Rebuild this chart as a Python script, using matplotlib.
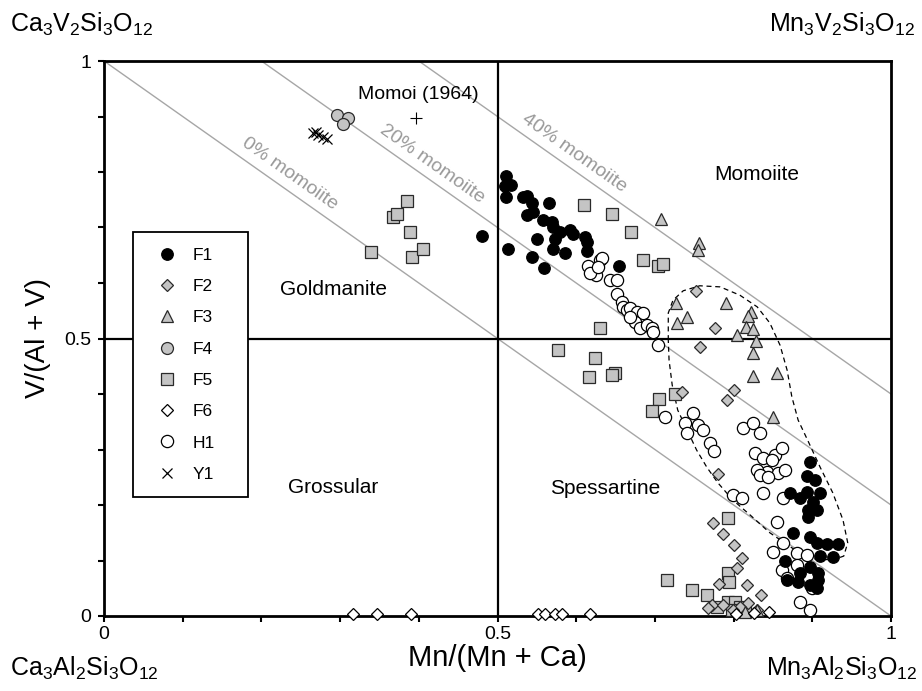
import math
import matplotlib
matplotlib.use('Agg')
import matplotlib.pyplot as plt
from matplotlib.ticker import MultipleLocator, FixedLocator, FixedFormatter

plt.rcParams['font.family'] = ['Liberation Sans', 'DejaVu Sans']
plt.rcParams['mathtext.default'] = 'regular'

# ---- data: Mn/(Mn+Ca) vs V/(Al+V) ----
F1_x = [0.480, 0.511, 0.517, 0.510, 0.511, 0.532, 0.537, 0.544, 0.537, 0.545,
        0.565, 0.558, 0.569, 0.571, 0.579, 0.592, 0.596, 0.611, 0.614, 0.573,
        0.550, 0.571, 0.586, 0.614, 0.513, 0.544, 0.559, 0.654,
        0.897, 0.893, 0.903, 0.910, 0.893, 0.884, 0.872, 0.901, 0.895, 0.906,
        0.895, 0.875, 0.897, 0.906, 0.919, 0.933, 0.910, 0.926, 0.865, 0.897,
        0.907, 0.884, 0.882, 0.897, 0.868, 0.906, 0.907]
F1_y = [0.685, 0.793, 0.777, 0.775, 0.755, 0.755, 0.757, 0.744, 0.723, 0.728,
        0.744, 0.714, 0.710, 0.701, 0.692, 0.695, 0.688, 0.683, 0.674, 0.679,
        0.679, 0.661, 0.654, 0.658, 0.661, 0.647, 0.627, 0.631,
        0.277, 0.252, 0.245, 0.222, 0.223, 0.213, 0.222, 0.205, 0.191, 0.191,
        0.178, 0.150, 0.142, 0.132, 0.130, 0.130, 0.108, 0.106, 0.099, 0.088,
        0.077, 0.077, 0.061, 0.056, 0.065, 0.050, 0.065]

F2_x = [0.752, 0.776, 0.757, 0.734, 0.801, 0.792, 0.780, 0.774, 0.787, 0.801,
        0.811, 0.804, 0.781, 0.817, 0.835, 0.773, 0.787, 0.818, 0.767, 0.808,
        0.830, 0.799]
F2_y = [0.586, 0.519, 0.485, 0.404, 0.407, 0.389, 0.256, 0.168, 0.148, 0.128,
        0.105, 0.086, 0.058, 0.056, 0.038, 0.020, 0.020, 0.023, 0.014, 0.016,
        0.011, 0.011]

F3_x = [0.708, 0.756, 0.755, 0.727, 0.741, 0.728, 0.790, 0.822, 0.818, 0.816,
        0.825, 0.804, 0.828, 0.825, 0.825, 0.855, 0.850, 0.830, 0.814]
F3_y = [0.715, 0.672, 0.659, 0.564, 0.539, 0.528, 0.564, 0.548, 0.541, 0.521,
        0.517, 0.506, 0.495, 0.474, 0.432, 0.438, 0.359, 0.011, 0.007]

F4_x = [0.296, 0.310, 0.304]
F4_y = [0.903, 0.897, 0.887]

F5_x = [0.339, 0.367, 0.372, 0.385, 0.389, 0.391, 0.405,
        0.610, 0.645, 0.670, 0.685, 0.704, 0.710, 0.630, 0.577, 0.624, 0.616,
        0.649, 0.645, 0.705, 0.696, 0.726, 0.715, 0.747, 0.766, 0.793, 0.793,
        0.794, 0.793, 0.802, 0.779, 0.808, 0.798, 0.814]
F5_y = [0.656, 0.719, 0.724, 0.748, 0.692, 0.647, 0.661,
        0.741, 0.724, 0.692, 0.641, 0.631, 0.634, 0.519, 0.479, 0.465, 0.431,
        0.438, 0.434, 0.391, 0.369, 0.400, 0.065, 0.047, 0.038, 0.177, 0.077,
        0.061, 0.025, 0.025, 0.016, 0.016, 0.011, 0.011]

F6_x = [0.316, 0.347, 0.390, 0.552, 0.560, 0.573, 0.582, 0.618, 0.803, 0.826, 0.845]
F6_y = [0.004, 0.004, 0.004, 0.004, 0.004, 0.004, 0.004, 0.004, 0.004, 0.006, 0.007]

H1_x = [0.615, 0.630, 0.633, 0.625, 0.618, 0.628, 0.643, 0.652, 0.652, 0.658,
        0.659, 0.665, 0.668, 0.677, 0.685, 0.675, 0.681, 0.690, 0.696, 0.698,
        0.704, 0.668,
        0.713, 0.748, 0.738, 0.741, 0.755, 0.761, 0.770, 0.775, 0.812, 0.825,
        0.834, 0.827, 0.837, 0.853, 0.861, 0.842, 0.830, 0.856, 0.865, 0.849,
        0.837, 0.863, 0.799, 0.811, 0.855, 0.863, 0.850, 0.881, 0.893, 0.861,
        0.868, 0.881, 0.900, 0.884, 0.897, 0.834, 0.844]
H1_y = [0.631, 0.641, 0.645, 0.614, 0.618, 0.629, 0.605, 0.605, 0.580, 0.566,
        0.557, 0.551, 0.555, 0.548, 0.546, 0.530, 0.519, 0.524, 0.519, 0.512,
        0.488, 0.539,
        0.359, 0.366, 0.348, 0.330, 0.344, 0.335, 0.312, 0.297, 0.339, 0.348,
        0.330, 0.294, 0.285, 0.290, 0.303, 0.259, 0.263, 0.258, 0.263, 0.281,
        0.222, 0.213, 0.218, 0.213, 0.169, 0.132, 0.115, 0.114, 0.110, 0.083,
        0.068, 0.092, 0.050, 0.025, 0.011, 0.254, 0.250]

Y1_x = [0.266, 0.272, 0.278, 0.283, 0.270]
Y1_y = [0.870, 0.867, 0.863, 0.859, 0.872]

MOMOI_x = [0.397]
MOMOI_y = [0.897]

# dashed envelope drawn around the F3 / lower F1 field
ENV_x = [0.717, 0.717, 0.723, 0.736, 0.757, 0.783, 0.808, 0.830, 0.846, 0.859,
         0.868, 0.874, 0.882, 0.895, 0.910, 0.926, 0.939, 0.945, 0.940, 0.926,
         0.903, 0.878, 0.846, 0.821, 0.799, 0.780, 0.766, 0.753, 0.742, 0.729,
         0.722, 0.718, 0.717]
ENV_y = [0.497, 0.546, 0.569, 0.586, 0.595, 0.593, 0.578, 0.557, 0.528, 0.488,
         0.443, 0.395, 0.353, 0.314, 0.268, 0.222, 0.173, 0.132, 0.108, 0.101,
         0.103, 0.119, 0.150, 0.182, 0.209, 0.240, 0.268, 0.299, 0.332, 0.371,
         0.416, 0.461, 0.497]

MOMOIITE_LEVELS = [0.0, 0.2, 0.4]
MOMOIITE_LABELS = ['0% momoiite', '20% momoiite', '40% momoiite']
MOMOIITE_LABEL_X = [0.236, 0.417, 0.598]

FIELD_NAMES = ['Goldmanite', 'Momoiite', 'Grossular', 'Spessartine']

GREY = '#c4c4c4'
EDGE = '#2a2a2a'
LINE_GREY = '#a6a6a6'

fig = plt.figure(figsize=(9.22, 6.91), dpi=100)
ax = fig.add_axes([104 / 922, 75 / 691, 787 / 922, 555 / 691])
ax.set_xlim(0, 1)
ax.set_ylim(0, 1)

# angle of a slope -1 line on screen
ang = -math.degrees(math.atan2(555, 787))

for lev, lab, lx in zip(MOMOIITE_LEVELS, MOMOIITE_LABELS, MOMOIITE_LABEL_X):
    ax.plot([lev, 1], [1, lev], color=LINE_GREY, lw=1.0, zorder=1)
    ax.text(lx, 1 + lev - lx + 0.032, lab, color='#9a9a9a', fontsize=14,
            rotation=ang, rotation_mode='anchor', ha='center', va='center')

ax.axhline(0.5, color='black', lw=1.6, zorder=1.5)
ax.axvline(0.5, color='black', lw=1.6, zorder=1.5)

ax.plot(ENV_x, ENV_y, color='black', lw=0.9, ls=(0, (4, 3)), zorder=2)

series = [
    ('F1', F1_x, F1_y, dict(marker='o', ms=8.3, mfc='black', mec='black'), 6),
    ('F2', F2_x, F2_y, dict(marker='D', ms=6.3, mfc=GREY, mec=EDGE), 4),
    ('F3', F3_x, F3_y, dict(marker='^', ms=9.3, mfc=GREY, mec=EDGE), 4),
    ('F4', F4_x, F4_y, dict(marker='o', ms=8.6, mfc=GREY, mec=EDGE), 4),
    ('F5', F5_x, F5_y, dict(marker='s', ms=8.6, mfc=GREY, mec=EDGE), 3),
    ('F6', F6_x, F6_y, dict(marker='D', ms=6.3, mfc='white', mec='black'), 5),
    ('H1', H1_x, H1_y, dict(marker='o', ms=8.8, mfc='white', mec='black'), 5.5),
    ('Y1', Y1_x, Y1_y, dict(marker='x', ms=7.5, mfc='none', mec='black'), 6),
]
handles = []
for name, xs, ys, st, z in series:
    h, = ax.plot(xs, ys, ls='none', mew=0.9, label=name, zorder=z,
                 clip_on=False, **st)
    handles.append(h)

ax.plot(MOMOI_x, MOMOI_y, ls='none', marker='+', ms=9, mew=0.8,
        color='black', zorder=6)
ax.text(0.40, 0.940, 'Momoi (1964)', fontsize=14, ha='center', va='center')

field_pos = [(0.291, 0.589), (0.830, 0.795), (0.291, 0.232), (0.637, 0.229)]
for name, (fx, fy) in zip(FIELD_NAMES, field_pos):
    ax.text(fx, fy, name, fontsize=15, ha='center', va='center')

leg = ax.legend(handles=handles, loc='upper left',
                bbox_to_anchor=(0.0368, 0.213, 0.146, 0.479), mode='expand',
                fontsize=12.5, frameon=True, fancybox=False, framealpha=1,
                edgecolor='black', borderpad=0.9, labelspacing=0.93,
                handlelength=2.15, handletextpad=0.4, borderaxespad=0)
leg.get_frame().set_linewidth(1.3)
leg.set_zorder(7)

for sp in ax.spines.values():
    sp.set_linewidth(2.0)
    sp.set_zorder(2.5)

ax.xaxis.set_major_locator(FixedLocator([0, 0.5, 1]))
ax.yaxis.set_major_locator(FixedLocator([0, 0.5, 1]))
ax.xaxis.set_major_formatter(FixedFormatter(['0', '0.5', '1']))
ax.yaxis.set_major_formatter(FixedFormatter(['0', '0.5', '1']))
ax.xaxis.set_minor_locator(MultipleLocator(0.1))
ax.yaxis.set_minor_locator(MultipleLocator(0.1))
ax.tick_params(which='both', direction='out', length=4, width=1.5,
               labelsize=14)
ax.tick_params(axis='x', which='major', pad=3)
ax.tick_params(axis='y', which='major', pad=5)

ax.set_xlabel('Mn/(Mn + Ca)', fontsize=21)
ax.set_ylabel('V/(Al + V)', fontsize=20)
ax.xaxis.label.set_va('center')
ax.yaxis.label.set_va('center')
ax.xaxis.set_label_coords(0.5, (616 - 658) / 555)
ax.yaxis.set_label_coords((38 - 104) / 787, 0.5)

fig.text(10 / 922, 1 - 24 / 691, r'Ca$_3$V$_2$Si$_3$O$_{12}$', fontsize=18,
         ha='left', va='center')
fig.text(915 / 922, 1 - 24 / 691, r'Mn$_3$V$_2$Si$_3$O$_{12}$', fontsize=18,
         ha='right', va='center')
fig.text(10 / 922, 1 - 668 / 691, r'Ca$_3$Al$_2$Si$_3$O$_{12}$', fontsize=18,
         ha='left', va='center')
fig.text(918 / 922, 1 - 668 / 691, r'Mn$_3$Al$_2$Si$_3$O$_{12}$', fontsize=18,
         ha='right', va='center')

fig.savefig('out.png', dpi=100)
